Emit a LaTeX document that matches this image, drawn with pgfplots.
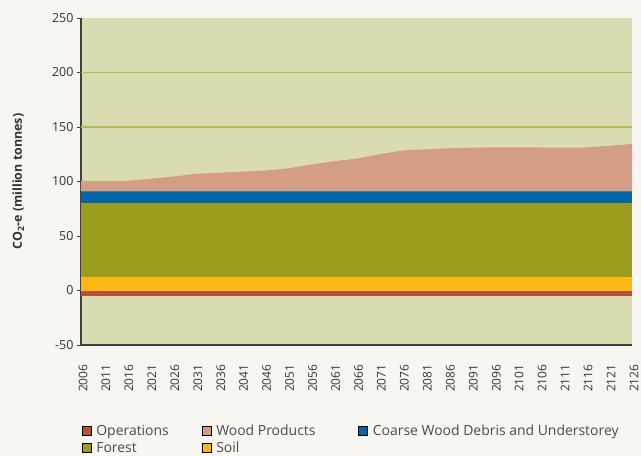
\documentclass[border=0pt]{standalone}
\usepackage{pgfplots}
\pgfplotsset{compat=1.18}
\usepackage{fontspec}
\setmainfont{Open Sans}
\usetikzlibrary{backgrounds}
\definecolor{pagebg}{HTML}{F8F6F1}
\definecolor{plotbg}{HTML}{DADBB0}
\definecolor{gridc}{HTML}{B3B852}
\definecolor{opsc}{HTML}{B5533A}
\definecolor{woodc}{HTML}{D49E86}
\definecolor{cwdc}{HTML}{0066A6}
\definecolor{forestc}{HTML}{999C1C}
\definecolor{soilc}{HTML}{FDB813}
\definecolor{axc}{HTML}{404040}
\definecolor{txtc}{HTML}{333333}
\definecolor{legc}{HTML}{4A4A4A}
\begin{document}
\begin{tikzpicture}
\begin{axis}[
  scale only axis,
  width=551bp, height=327bp,
  xmin=2006, xmax=2126,
  ymin=-50, ymax=250,
  axis x line=bottom, axis y line=left,
  axis line style={-, color=axc, line width=1.1bp},
  axis background/.style={fill=plotbg},
  xtick={2006,2011,...,2126},
  ytick={-50,0,50,100,150,200,250},
  extra y ticks={100,150,200},
  extra y tick labels={},
  extra y tick style={grid=major, major tick length=0pt},
  grid style={color=gridc, line width=1.5bp},
  tick align=outside,
  ytick style={color=axc, line width=0.8bp},
  major tick length=4bp,
  xtick style={draw=none},
  /pgf/number format/assume math mode=true,
  /pgf/number format/set thousands separator={},
  xticklabel style={rotate=90, anchor=east, font=\fontsize{12}{14}\selectfont, text=txtc, xshift=-12bp, yshift=-2bp},
  yticklabel style={font=\fontsize{12.5}{14}\selectfont, text=txtc},
  ylabel={\textbf{CO\textsubscript{2}-e (million tonnes)}},
  ylabel style={at={(axis description cs:-0.114,0.5)}, anchor=center, font=\fontsize{12.5}{15}\selectfont, text=txtc},
  legend columns=3,
  legend cell align=left,
  legend style={at={(-0.004,-0.232)}, anchor=north west, draw=none, fill=none,
    font=\fontsize{14}{17}\selectfont, text=legc,
    /tikz/every odd column/.append style={column sep=3bp},
    /tikz/every even column/.append style={column sep=31bp},
    row sep=1bp},
  legend image code/.code={\fill[#1] (0bp,-4.5bp) rectangle (9bp,4.5bp);},
]
\coordinate (O) at (rel axis cs:0,0);
\addlegendimage{fill=opsc}
\addlegendentry{Operations}
\addlegendimage{fill=woodc}
\addlegendentry{Wood Products\hspace*{10bp}}
\addlegendimage{fill=cwdc}
\addlegendentry{Coarse Wood Debris and Understorey}
\addlegendimage{fill=forestc}
\addlegendentry{Forest}
\addlegendimage{fill=soilc}
\addlegendentry{Soil}
% Operations
\addplot[fill=opsc, draw=none, forget plot] coordinates {(2006,0) (2126,0) (2126,-5) (2006,-5)} -- cycle;
% Soil
\addplot[fill=soilc, draw=none, forget plot] coordinates {(2006,0) (2126,0) (2126,12) (2006,12)} -- cycle;
% Forest
\addplot[fill=forestc, draw=none, forget plot] coordinates {(2006,12) (2126,12) (2126,80) (2006,80)} -- cycle;
% Coarse wood debris
\addplot[fill=cwdc, draw=none, forget plot] coordinates {(2006,80) (2126,80) (2126,91) (2006,91)} -- cycle;
% Wood products (upper boundary)
\addplot[fill=woodc, draw=none, forget plot] coordinates {
(2006,99.5) (2011,100) (2016,100.5) (2021,102.5) (2026,104.5) (2031,107)
(2036,108) (2041,109) (2046,110) (2051,112) (2056,115.5) (2061,118.5)
(2066,121) (2071,125) (2076,128.5) (2081,129.5) (2086,130.5) (2091,131)
(2096,131.3) (2101,131.3) (2106,131.2) (2111,131) (2116,131.2) (2121,132.8)
(2126,134.4) (2126,91) (2006,91)} -- cycle;
\end{axis}
\begin{scope}[on background layer]
\fill[pagebg] ([shift={(-81bp,-111bp)}]O) rectangle ([shift={(560bp,345bp)}]O);
\end{scope}
\pgfresetboundingbox
\useasboundingbox ([shift={(-81bp,-111bp)}]O) rectangle ([shift={(560bp,345bp)}]O);
\end{tikzpicture}
\end{document}
